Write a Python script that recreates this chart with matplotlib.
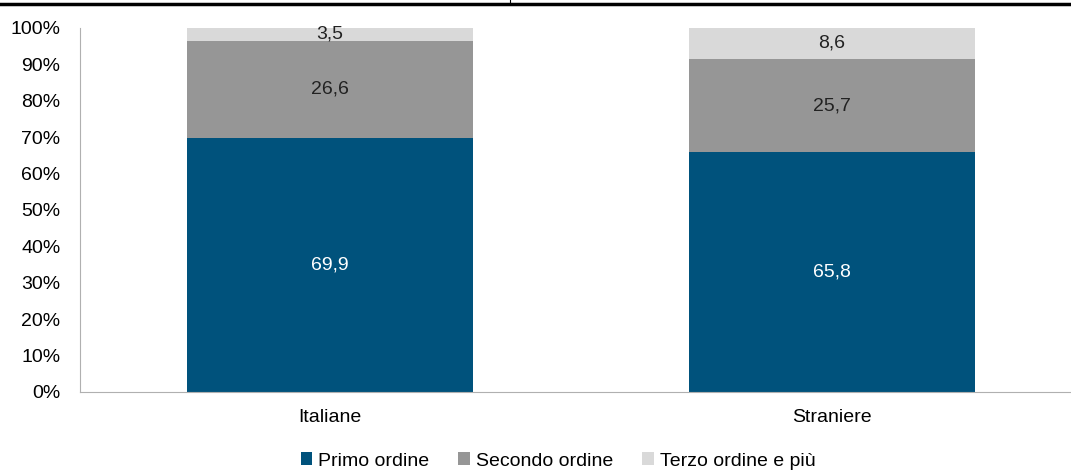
import numpy as np
import matplotlib.pyplot as plt
from matplotlib.lines import Line2D

plt.rcParams['font.family'] = ['Liberation Sans', 'DejaVu Sans']

categories = ['Italiane', 'Straniere']
primo = [69.9, 65.8]
secondo = [26.6, 25.7]
terzo = [3.5, 8.6]
series_names = ['Primo ordine', 'Secondo ordine', 'Terzo ordine e più']

colors = ['#00527c', '#969696', '#d9d9d9']
text_colors = ['white', '#222222', '#222222']

fig = plt.figure(figsize=(10.71, 4.71), dpi=100)
ax = fig.add_axes([80 / 1071, 1 - 392 / 471, 991 / 1071, 364 / 471])

x = np.arange(len(categories))
bottom = np.zeros(len(categories))
for vals, col, tcol, name in zip([primo, secondo, terzo], colors, text_colors, series_names):
    vals = np.array(vals)
    ax.bar(x, vals, 0.57, bottom=bottom, color=col, label=name)
    for xi, b, v in zip(x, bottom, vals):
        ax.text(xi, b + v / 2, f'{v:.1f}'.replace('.', ','), ha='center', va='center',
                color=tcol, fontsize=14)
    bottom += vals

ax.set_xlim(-0.498, 1.476)
ax.set_ylim(0, 100)
ax.set_yticks(range(0, 101, 10))
ax.set_yticklabels([f'{t}%' for t in range(0, 101, 10)], fontsize=14)
ax.set_xticks(x)
ax.set_xticklabels(categories, fontsize=14)
ax.tick_params(axis='y', length=0, pad=14)
ax.tick_params(axis='x', length=0, pad=12)
for s in ['top', 'right']:
    ax.spines[s].set_visible(False)
for s in ['left', 'bottom']:
    ax.spines[s].set_color('#b0b0b0')

ax.legend(loc='center', bbox_to_anchor=(478 / 991, -69 / 364), ncol=3, frameon=False,
          fontsize=14, handlelength=0.6, handleheight=0.6, handletextpad=0.3, columnspacing=1.5)

# rule at the top of the page
fig.add_artist(Line2D([0, 1], [1 - 4 / 471, 1 - 4 / 471], color='black', lw=2.5))
fig.add_artist(Line2D([510 / 1071, 510 / 1071], [1 - 3 / 471, 1], color='black', lw=0.8))

fig.savefig('out.png', dpi=100)
